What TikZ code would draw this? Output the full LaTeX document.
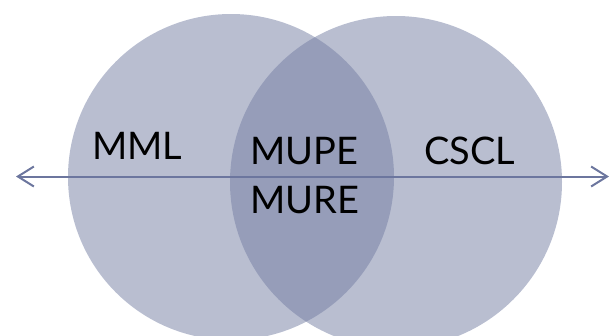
\documentclass[tikz,border=0pt]{standalone}
\usepackage{fontspec}
\setmainfont{Lato}
\usetikzlibrary{arrows.meta}
\definecolor{setfill}{RGB}{115,125,162}
\definecolor{axisline}{RGB}{108,118,158}
\tikzset{
  setcircle/.style={circle, fill=setfill, fill opacity=0.5, draw=none, inner sep=0pt},
  setlabel/.style={anchor=base west, inner sep=0pt, font=\fontsize{38}{38}\selectfont, text=black},
  axis/.style={draw=axisline, line width=2pt, {Straight Barb[length=16pt,width=20pt,line width=2pt]}-{Straight Barb[length=16pt,width=20pt,line width=2pt]}}
}
\begin{document}
\begin{tikzpicture}[x=1pt,y=-1pt]
  \useasboundingbox (0,0) rectangle (611,335);
  % the two overlapping sets
  \node[setcircle, minimum size=326pt] (left) at (231,177) {};
  \node[setcircle, minimum size=332pt] (right) at (396,182) {};
  % horizontal axis through both sets
  \coordinate (w) at (16,176.5);
  \coordinate (e) at (609,176.5);
  \draw[axis] (w) -- (e);
  % labels
  \node[setlabel] (mml) at (92,159) {MML};
  \node[setlabel] (mupe) at (250,164) {MUPE};
  \node[setlabel] (mure) at (250,213) {MURE};
  \node[setlabel] (cscl) at (424,164) {CSCL};
\end{tikzpicture}
\end{document}
